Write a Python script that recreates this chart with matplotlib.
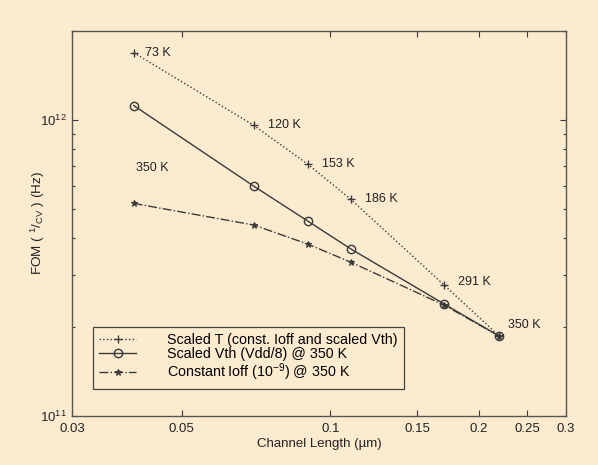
import matplotlib
matplotlib.use("Agg")
import matplotlib.pyplot as plt
from matplotlib.ticker import FixedLocator, FixedFormatter, LogLocator, NullFormatter

plt.rcParams['font.family'] = ['Liberation Sans', 'DejaVu Sans']
plt.rcParams['mathtext.fontset'] = 'custom'
plt.rcParams['mathtext.rm'] = 'Liberation Sans'
plt.rcParams['mathtext.it'] = 'Liberation Sans'

# Channel length (um)
channel_length = [0.04, 0.07, 0.09, 0.11, 0.17, 0.22]

# FOM (Hz) for each scaling strategy
fom_scaled_T = [1.69e12, 9.6e11, 7.1e11, 5.4e11, 2.77e11, 1.86e11]
fom_scaled_vth = [1.12e12, 5.98e11, 4.56e11, 3.67e11, 2.39e11, 1.86e11]
fom_const_ioff = [5.23e11, 4.42e11, 3.81e11, 3.31e11, 2.37e11, 1.86e11]

temp_labels = ["73 K", "120 K", "153 K", "186 K", "291 K", "350 K"]

series_names = ["Scaled T (const. Ioff and scaled Vth)",
                "Scaled Vth (Vdd/8) @ 350 K",
                r"Constant Ioff (10$^{-9}$) @ 350 K"]

x_ticks = [0.03, 0.05, 0.1, 0.15, 0.2, 0.25, 0.3]
x_tick_labels = ["0.03", "0.05", "0.1", "0.15", "0.2", "0.25", "0.3"]

bg = "#fdebd0"
ink = "#3a3a3a"

fig = plt.figure(figsize=(5.98, 4.65), dpi=100, facecolor=bg)
ax = fig.add_axes([0.1204, 0.1054, 0.8261, 0.8279])
ax.set_facecolor(bg)

ax.plot(channel_length, fom_scaled_T, linestyle=':', color=ink, lw=1.0,
        marker='+', ms=6, mew=1.0, label=series_names[0])
ax.plot(channel_length, fom_scaled_vth, linestyle='-', color=ink, lw=1.0,
        marker='o', ms=6, mfc='none', mew=1.0, label=series_names[1])
ax.plot(channel_length, fom_const_ioff, linestyle='-.', color=ink, lw=1.0,
        marker='*', ms=5, mew=0.8, label=series_names[2])

ax.set_xscale('log')
ax.set_yscale('log')
ax.set_xlim(0.03, 0.3)
ax.set_ylim(1e11, 2e12)

ax.xaxis.set_major_locator(FixedLocator(x_ticks))
ax.xaxis.set_major_formatter(FixedFormatter(x_tick_labels))
ax.xaxis.set_minor_locator(FixedLocator([]))
ax.yaxis.set_major_locator(LogLocator(base=10))
ax.yaxis.set_minor_locator(LogLocator(base=10, subs=range(2, 10)))
ax.yaxis.set_minor_formatter(NullFormatter())

ax.tick_params(which='both', direction='in', top=True, right=True,
               colors=ink, labelsize=9.5, labelcolor='#222222')
ax.tick_params(which='major', length=4, width=0.8)
ax.tick_params(which='minor', length=2.5, width=0.8)
ax.tick_params(axis='x', pad=5)
for s in ax.spines.values():
    s.set_color('#555555')
    s.set_linewidth(1.0)

# Temperature labels along the scaled-T curve
offsets = [(8, 0), (10, 0), (10, 0), (10, 0), (10, 2), (6, 8)]
for x, y, t, off in zip(channel_length, fom_scaled_T, temp_labels, offsets):
    ax.annotate(t, (x, y), xytext=off, textcoords='offset points',
                ha='left', va='center', fontsize=9, color='#222222')
ax.text(0.0405, 6.9e11, "350 K", fontsize=9, color='#222222', va='center')

ax.set_xlabel("Channel Length (\u00b5m)", fontsize=9.5, color='#222222', labelpad=2)
ax.set_ylabel(r"FOM ( $^{\mathrm{1}}/_{\mathrm{CV}}$ ) (Hz)", fontsize=9.7,
              color='#222222')
ax.yaxis.set_label_coords(-0.05, 0.5)

leg = ax.legend(loc='lower left', bbox_to_anchor=(0.042, 0.07), fontsize=10.3,
                frameon=True, fancybox=False, edgecolor='#444444',
                facecolor=bg, framealpha=1, handlelength=2.6,
                labelspacing=0.0, borderpad=0.45, handletextpad=2.15,
                borderaxespad=0)
leg.get_frame().set_linewidth(0.9)

fig.savefig("out.png", dpi=100, facecolor=bg)
